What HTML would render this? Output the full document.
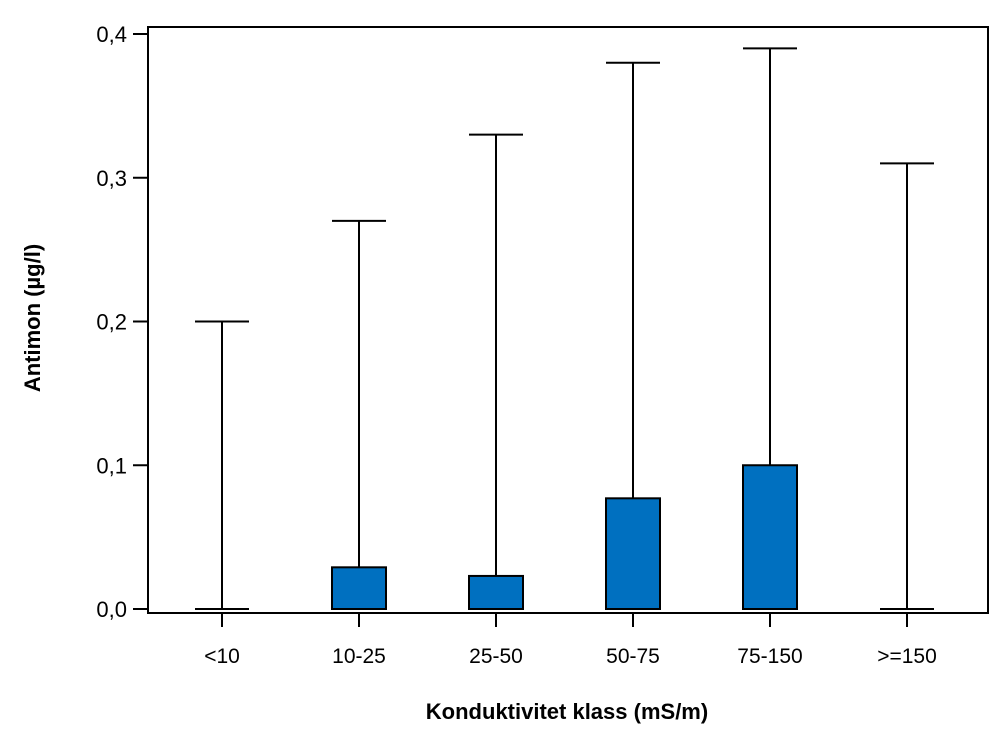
<!DOCTYPE html>
<html><head><meta charset="utf-8"><style>
body{margin:0;background:#fff}
svg text{font-family:"Liberation Sans",sans-serif;fill:#000}
</style></head><body>
<svg id="chart" width="1000" height="750">
<rect x="148" y="27" width="840" height="586" fill="none" stroke="#000" stroke-width="2"/>
<g id="marks"></g>
<g id="axes"></g>
<text x="0" y="0" transform="translate(40,318) rotate(-90)" text-anchor="middle" font-size="22" font-weight="bold">Antimon (µg/l)</text>
<text x="567" y="719" text-anchor="middle" font-size="22" font-weight="bold">Konduktivitet klass (mS/m)</text>
</svg>
<script>
const categories=["<10","10-25","25-50","50-75","75-150",">=150"];
const boxTop=[0,0.029,0.023,0.077,0.1,0];
const boxBottom=[0,0,0,0,0,0];
const whiskerTop=[0.2,0.27,0.33,0.38,0.39,0.31];
const yTicks=[0,0.1,0.2,0.3,0.4];
const yTickLabels=["0,0","0,1","0,2","0,3","0,4"];
const NS="http://www.w3.org/2000/svg";
const y=v=>609-v*1437.5;
const x=i=>222+i*137;
const marks=document.getElementById('marks'), axes=document.getElementById('axes');
function mk(tag,attrs,parent){const e=document.createElementNS(NS,tag);for(const k in attrs)e.setAttribute(k,attrs[k]);parent.appendChild(e);return e;}
categories.forEach((c,i)=>{
  const cx=x(i);
  const w=mk('line',{x1:cx,x2:cx,y1:y(whiskerTop[i]),y2:y(boxTop[i]),stroke:'#000','stroke-width':2},marks);
  
  
  const cap=mk('line',{x1:cx-27,x2:cx+27,y1:y(whiskerTop[i]),y2:y(whiskerTop[i]),stroke:'#000','stroke-width':2},marks);
  
  
  if(boxTop[i]>boxBottom[i]){
    const b=mk('rect',{x:cx-27,y:y(boxTop[i]),width:54,height:y(boxBottom[i])-y(boxTop[i]),fill:'#0070c0',stroke:'#000','stroke-width':2},marks);
    
    
  } else {
    const b=mk('line',{x1:cx-27,x2:cx+27,y1:y(boxTop[i]),y2:y(boxTop[i]),stroke:'#000','stroke-width':2},marks);
    
    
  }
  const t=mk('line',{x1:cx,x2:cx,y1:613,y2:627,stroke:'#000','stroke-width':2},axes);
  
  
  const l=mk('text',{x:cx,y:663,'text-anchor':'middle','font-size':21},axes);
  l.textContent=c;
  
  
});
yTicks.forEach((v,i)=>{
  const t=mk('line',{x1:133,x2:148,y1:y(v),y2:y(v),stroke:'#000','stroke-width':2},axes);
  
  
  const l=mk('text',{x:127,y:y(v)+8,'text-anchor':'end','font-size':22},axes);
  l.textContent=yTickLabels[i];
  
  
});
</script>
</body></html>
